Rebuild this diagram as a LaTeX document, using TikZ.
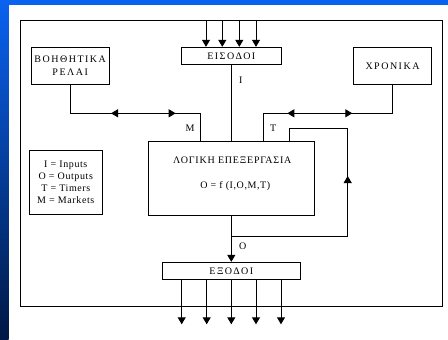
\documentclass[tikz,border=0pt]{standalone}
\usepackage{fontspec}
\usetikzlibrary{arrows.meta}
\newfontfamily\grk{Liberation Serif}[LetterSpace=15]
\newfontfamily\grkn{Liberation Serif}[LetterSpace=8]
\newfontfamily\lat{Liberation Serif}[LetterSpace=6]
\definecolor{bgtop}{RGB}{10,98,240}
\definecolor{bgbot}{RGB}{0,24,68}
\tikzset{
  box/.style={draw=black, line width=0.9pt, fill=white, inner sep=0pt, font=\grk\fontsize{10}{13}\selectfont, align=center},
  wire/.style={draw=black, line width=0.9pt},
  tip/.style={-{Triangle[length=7pt,width=8pt]}},
  dtip/.style={{Triangle[length=7pt,width=8pt]}-{Triangle[length=7pt,width=8pt]}},
  lbl/.style={inner sep=0pt, font=\lat\fontsize{10}{12}\selectfont},
}
\begin{document}
\begin{tikzpicture}[x=1pt,y=-1pt]
\useasboundingbox (0,0) rectangle (448,340);
% background
\fill[white] (0,0) rectangle (448,340);
\fill[bgtop] (0,0) rectangle (448,5);
\shade[top color=bgtop, bottom color=bgbot] (0,0) rectangle (8.5,340);

% frame
\node[box, minimum width=422pt, minimum height=286pt] (frame) at (231.7,163.7) {};

% boxes
\node[box, minimum width=99.3pt, minimum height=17pt] (eis) at (231.3,55.8) {ΕΙΣΟΔΟΙ};
\node[box, minimum width=78.3pt, minimum height=37pt] (boh) at (70.2,65.8) {ΒΟΗΘΗΤΙΚΑ\\ΡΕΛΑΙ};
\node[box, minimum width=78.4pt, minimum height=37pt] (xro) at (392.5,65.8) {ΧΡΟΝΙΚΑ};
\node[box, minimum width=166pt, minimum height=74.3pt] (log) at (231.3,178.2) {};
\node[lbl, font=\grkn\fontsize{10}{12}\selectfont] (logt) at (232.3,160) {ΛΟΓΙΚΗ ΕΠΕΞΕΡΓΑΣΙΑ};
\node[lbl] (logf) at (235.3,186) {O = f (I,O,M,T)};
\node[box, minimum width=73pt, minimum height=63.6pt, font=\lat\fontsize{10}{12.1}\selectfont] (leg) at (65.8,182.5) {I = Inputs\\O = Outputs\\T = Timers\\M = Markets};
\node[box, minimum width=137.3pt, minimum height=17pt] (exo) at (231.3,270.8) {ΕΞΟΔΟΙ};

% inputs
\foreach \i/\x in {1/206,2/222.3,3/239.3,4/256}{
  \coordinate (in\i) at (\x,47.3);
  \draw[wire,tip] (in\i |- frame.north) -- (in\i |- eis.north);
}
% I line
\draw[wire] (eis.south) -- (log.north);
\node[lbl] (li) at (240.7,80) {I};

% left connector (markers)
\coordinate (mx) at (200,113.3);
\draw[wire] (boh.south) |- (mx) -- (mx |- log.north);
\coordinate (ml) at (111,113.3);
\coordinate (mr) at (175.7,113.3);
\draw[wire,dtip] (ml) -- (mr);
\node[lbl] (lm) at (190,128.3) {M};

% right connector (timers)
\coordinate (tx) at (263.3,113.3);
\draw[wire] (xro.south) |- (tx) -- (tx |- log.north);
\coordinate (tl) at (287.3,113.3);
\coordinate (tr) at (352.3,113.3);
\draw[wire,dtip] (tl) -- (tr);
\node[lbl] (lt) at (273.3,128.3) {T};

% feedback
\coordinate (fb1) at (289.3,128.3);
\coordinate (fb2) at (347.7,236);
\draw[wire] (log.south |- fb2) -- (fb2) |- (fb1) -- (fb1 |- log.north);
\coordinate (fa) at (347.7,190);
\coordinate (fb) at (347.7,176);
\draw[wire,tip] (fa) -- (fb);

% output
\draw[wire,tip] (log.south) -- (exo.north);
\node[lbl] (lo) at (242.7,246.7) {O};

% outputs
\foreach \i/\x in {1/181.7,2/206.7,3/231.3,4/256,5/281}{
  \coordinate (out\i) at (\x,324.3);
  \draw[wire,tip] (out\i |- exo.south) -- (out\i);
}
\end{tikzpicture}
\end{document}
